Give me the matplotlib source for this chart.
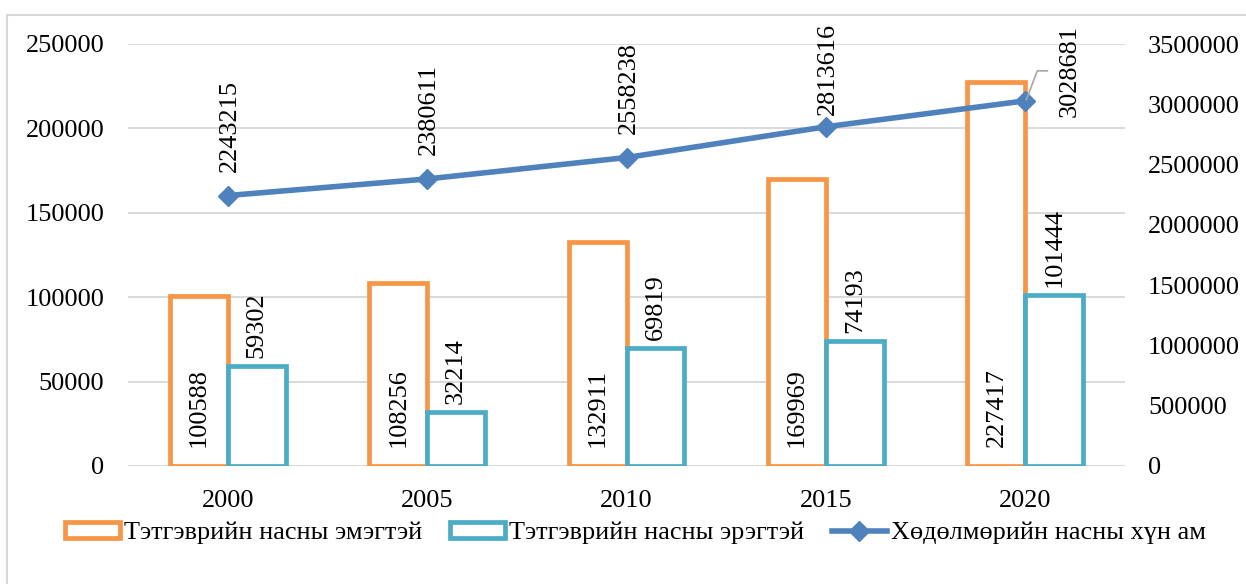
import matplotlib
matplotlib.use("Agg")
import matplotlib.pyplot as plt
import numpy as np
from matplotlib.patches import Rectangle
from matplotlib.lines import Line2D
from matplotlib.ticker import FuncFormatter

years = ["2000", "2005", "2010", "2015", "2020"]
female = [100588, 108256, 132911, 169969, 227417]
male = [59302, 32214, 69819, 74193, 101444]
working = [2243215, 2380611, 2558238, 2813616, 3028681]
series_names = ["Тэтгэврийн насны эмэгтэй", "Тэтгэврийн насны эрэгтэй",
                "Хөдөлмөрийн насны хүн ам"]

ORANGE = "#F79646"
TEAL = "#4BACC6"
BLUE = "#4F81BD"
GRID = "#D9D9D9"
FS = 18.9

plt.rcParams["font.family"] = ["Liberation Serif", "DejaVu Serif"]

W, H = 1246, 584
fig = plt.figure(figsize=(W / 100, H / 100), dpi=100)
ax = fig.add_axes([128 / W, 1 - 466 / H, (1125 - 128) / W, (466 - 44) / H])
ax2 = ax.twinx()

x = np.arange(len(years))
bw = 0.29
lw = 3.4
ax.bar(x - bw / 2, female, bw, facecolor="white", edgecolor=ORANGE,
       linewidth=lw, zorder=3)
ax.bar(x + bw / 2, male, bw, facecolor="white", edgecolor=TEAL,
       linewidth=lw, zorder=3)

plain = FuncFormatter(lambda v, p: f"{int(round(v))}")
ax.set_xlim(-0.5, len(years) - 0.5)
ax.set_ylim(0, 250000)
ax.set_yticks(np.arange(0, 250001, 50000))
ax.yaxis.set_major_formatter(plain)
ax.set_xticks(x)
ax.set_xticklabels(years)
ax2.set_ylim(0, 3500000)
ax2.set_yticks(np.arange(0, 3500001, 500000))
ax2.yaxis.set_major_formatter(plain)

for a in (ax, ax2):
    for s in a.spines.values():
        s.set_visible(False)
    a.tick_params(length=0, labelsize=FS)
ax.tick_params(axis="y", pad=17)
ax.tick_params(axis="x", pad=17.5)
ax2.tick_params(axis="y", pad=16.5)
ax.yaxis.grid(True, color=GRID, linewidth=1.4, zorder=0)
ax.set_axisbelow(True)

ax2.plot(x, working, color=BLUE, linewidth=4, marker="D", markersize=10,
         markerfacecolor=BLUE, markeredgecolor=BLUE, zorder=4)

# labels
for i in range(len(years)):
    ax.annotate(f"{female[i]}", (x[i] - bw / 2, 0), xytext=(0, 19),
                textcoords="offset pixels", rotation=90, ha="center",
                va="bottom", fontsize=FS, zorder=5)
    ax.annotate(f"{male[i]}", (x[i] + bw / 2, male[i]), xytext=(0, 8),
                textcoords="offset pixels", rotation=90, ha="center",
                va="bottom", fontsize=FS, zorder=5)
line_labels = []
for i in range(len(years) - 1):
    t = ax2.annotate(f"{working[i]}", (x[i], working[i]), xytext=(2, 24),
                     textcoords="offset pixels", rotation=90, ha="center",
                     va="bottom", fontsize=FS, zorder=5)
    line_labels.append(t)
i = len(years) - 1
ax2.annotate(f"{working[i]}", (x[i], working[i]), xytext=(44, 30),
             textcoords="offset pixels", rotation=90, ha="center",
             va="center", fontsize=FS, zorder=5)
px, py = ax2.transData.transform((x[i], working[i]))
fig.add_artist(Line2D([px + 1, px + 12, px + 22], [py + 1, py + 30, py + 30],
                      transform=None, color="#A6A6A6", linewidth=1.2))

# keep line labels inside the chart area (top limit ~23 px from top)
fig.canvas.draw()
renderer = fig.canvas.get_renderer()
top_limit = H - 23
for t in line_labels:
    bb = t.get_window_extent(renderer)
    if bb.y1 > top_limit:
        ox, oy = t.xyann
        t.xyann = (ox, oy - (bb.y1 - top_limit))

# frame
fig.add_artist(Rectangle((7 / W, -0.1), 1.2, 1 - 15 / H + 0.1,
                         transform=fig.transFigure, fill=False,
                         edgecolor=GRID, linewidth=1.5, clip_on=False))

handles = [
    Rectangle((0, 0), 1, 1, facecolor="white", edgecolor=ORANGE, linewidth=lw),
    Rectangle((0, 0), 1, 1, facecolor="white", edgecolor=TEAL, linewidth=lw),
    Line2D([], [], color=BLUE, linewidth=4, marker="D", markersize=10),
]
fig.legend(handles, series_names, loc="center", bbox_to_anchor=(0.51, 1 - 533 / H),
           ncol=3, frameon=False, fontsize=FS, handlelength=2.1,
           handleheight=0.55, handletextpad=0.15, columnspacing=1.05,
           borderaxespad=0)

fig.savefig("out.png", dpi=100)
